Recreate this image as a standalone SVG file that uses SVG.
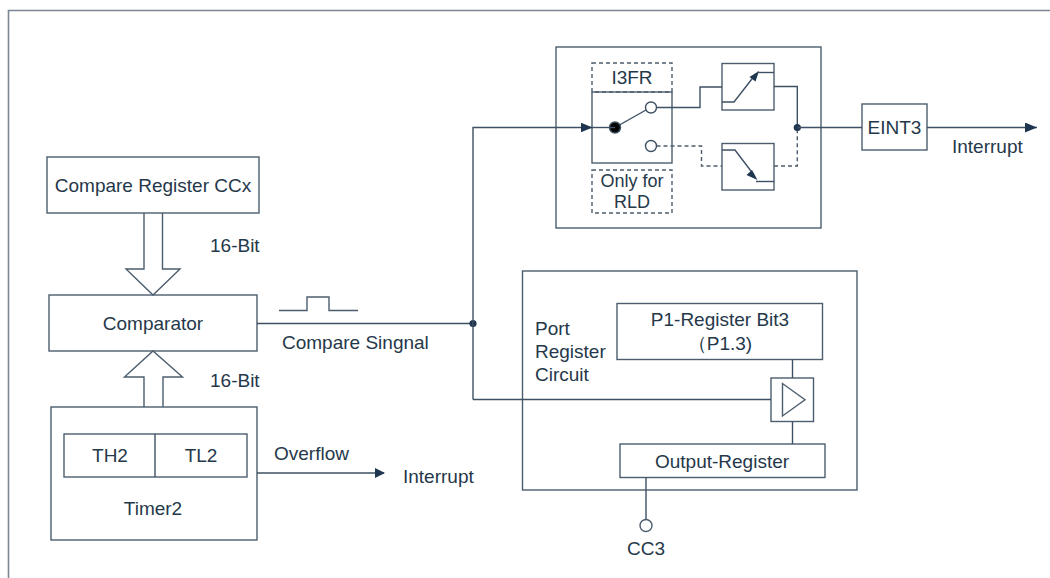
<svg xmlns="http://www.w3.org/2000/svg" width="1050" height="578" viewBox="0 0 1050 578">
<defs>
<style>
.t{font-family:"Liberation Sans",Arial,sans-serif;font-size:19px;fill:#25384a;}
.m{text-anchor:middle;}
.b{fill:#fff;stroke:#4c5d6d;stroke-width:1.4;}
.bn{fill:none;stroke:#4c5d6d;stroke-width:1.4;}
.l{fill:none;stroke:#3e5063;stroke-width:1.4;}
.d{fill:none;stroke:#4c5d6d;stroke-width:1.4;stroke-dasharray:4,3;}
.frame{fill:none;stroke:#7b8793;stroke-width:1.6;}
</style>
<marker id="ah" markerWidth="12" markerHeight="10" refX="12" refY="5" orient="auto" markerUnits="userSpaceOnUse">
<path d="M0,0 L12,5 L0,10 Z" fill="#1f3650"/>
</marker>
<marker id="ahs" markerWidth="10" markerHeight="10" refX="9" refY="5" orient="auto" markerUnits="userSpaceOnUse">
<path d="M0,0 L10,5 L0,10 Z" fill="#1f3650"/>
</marker>
</defs>
<rect width="1050" height="578" fill="#fff"/>
<path class="frame" d="M8.5,578 V10.5 H1050"/>

<g id="compare-register">
<rect class="b" x="47" y="157" width="212" height="56"/>
<text class="t m" x="153" y="192">Compare Register CCx</text>
</g>
<g id="comparator">
<rect class="b" x="49" y="295" width="208" height="56"/>
<text class="t m" x="153" y="330">Comparator</text>
</g>
<g id="timer2">
<rect class="b" x="51" y="407" width="206" height="133"/>
<rect class="b" x="64" y="434" width="183" height="43"/>
<line class="l" x1="155" y1="434" x2="155" y2="477"/>
<text class="t m" x="110" y="462">TH2</text>
<text class="t m" x="201" y="462">TL2</text>
<text class="t m" x="153" y="515">Timer2</text>
</g>

<g id="i3fr-box">
<rect class="b" x="556" y="47" width="265" height="181"/>
<rect class="d" x="592" y="63" width="80" height="29"/>
<text class="t m" x="632" y="84">I3FR</text>
<rect class="bn" x="592" y="92" width="80" height="71"/>
<rect class="d" x="592" y="170" width="80" height="43"/>
<text class="t m" x="632" y="187" style="font-size:18px">Only for</text>
<text class="t m" x="632" y="208" style="font-size:18px">RLD</text>
<line class="l" x1="615" y1="127.5" x2="646" y2="110"/>
<circle cx="615" cy="127.5" r="5.5" fill="#000" stroke="#3e5063" stroke-width="1.4"/>
<circle cx="651" cy="107.5" r="5.5" fill="#fff" stroke="#3e5063" stroke-width="1.4"/>
<circle cx="651" cy="146" r="5.5" fill="#fff" stroke="#3e5063" stroke-width="1.4"/>
</g>
<g id="rising-edge">
<rect class="b" x="722" y="63.5" width="52" height="46.5"/>
<path class="l" d="M722,102 H734 L755,75"/>
<path d="M759,71 L749.5,77 L755.5,81.5 Z" fill="#1f3650"/>
<path class="l" d="M757,72.5 H774"/>
</g>
<g id="falling-edge">
<rect class="b" x="722" y="143.5" width="52" height="46.5"/>
<path class="l" d="M722,150 H735 L754,175"/>
<path d="M757.5,180 L752,170 L746.5,175 Z" fill="#1f3650"/>
<path class="l" d="M756,181.5 H774"/>
</g>
<g id="eint3">
<rect class="b" x="862" y="104" width="65" height="46"/>
<text class="t m" x="894.5" y="134">EINT3</text>
</g>

<g id="port-register-circuit">
<rect class="b" x="522.5" y="271" width="334.5" height="219"/>
<text class="t" x="535" y="335">Port</text>
<text class="t" x="535" y="358">Register</text>
<text class="t" x="535" y="381">Circuit</text>
</g>
<g id="p1-register">
<rect class="b" x="617" y="303.5" width="205.5" height="56"/>
<text class="t m" x="720" y="326">P1-Register Bit3</text>
<text class="t m" x="720" y="350">（P1.3)</text>
</g>
<g id="buffer">
<rect class="b" x="771" y="378" width="42.5" height="43.5"/>
<path class="bn" d="M782.5,383.5 V416 L805,399.7 Z"/>
</g>
<g id="output-register">
<rect class="b" x="620" y="444" width="205" height="33.5"/>
<text class="t m" x="722" y="468">Output-Register</text>
</g>
<g id="cc3">
<circle cx="646" cy="525.5" r="6" fill="#fff" stroke="#4c5d6d" stroke-width="1.4"/>
<text class="t m" x="646" y="555">CC3</text>
</g>

<g id="connectors">
<path class="bn" d="M144,213 V269 H126 L153,295 L180,269 H162.5 V213"/>
<path class="bn" d="M144,407 V377 H124.5 L153,351 L182.5,377 H163 V407"/>
<text class="t" x="210" y="252">16-Bit</text>
<text class="t" x="210" y="387">16-Bit</text>
<line class="l" x1="257" y1="473" x2="384" y2="473" marker-end="url(#ahs)"/>
<text class="t" x="274" y="460">Overflow</text>
<text class="t" x="403" y="483">Interrupt</text>
<path class="bn" d="M279,310.5 H307 V297 H329 V310.5 H358"/>
<line class="l" x1="257" y1="323.5" x2="473" y2="323.5"/>
<text class="t" x="282" y="349">Compare Singnal</text>
<circle cx="473" cy="323.5" r="3.6" fill="#1f3650"/>
<path class="l" d="M473,399.5 V127.5 H592.5" marker-end="url(#ah)"/>
<line class="l" x1="473" y1="399.5" x2="771" y2="399.5"/>
<path class="l" d="M656.5,107.5 H700 V87 H722"/>
<path class="d" d="M656.5,146 H701.5 V166 H722"/>
<path class="l" d="M774,86.5 H797.3 V127.5"/>
<path class="d" d="M774,166 H797.3 V127.5"/>
<circle cx="797.3" cy="127.5" r="3.6" fill="#1f3650"/>
<line class="l" x1="615" y1="127.5" x2="592" y2="127.5"/>
<line class="l" x1="797.3" y1="127.5" x2="862" y2="127.5"/>
<line class="l" x1="927" y1="127.5" x2="1037" y2="127.5" marker-end="url(#ah)"/>
<text class="t" x="952" y="153">Interrupt</text>
<line class="l" x1="792.5" y1="359.5" x2="792.5" y2="378"/>
<line class="l" x1="792.5" y1="421.5" x2="792.5" y2="444"/>
<line class="l" x1="646" y1="477.5" x2="646" y2="519.5"/>
</g>
</svg>
